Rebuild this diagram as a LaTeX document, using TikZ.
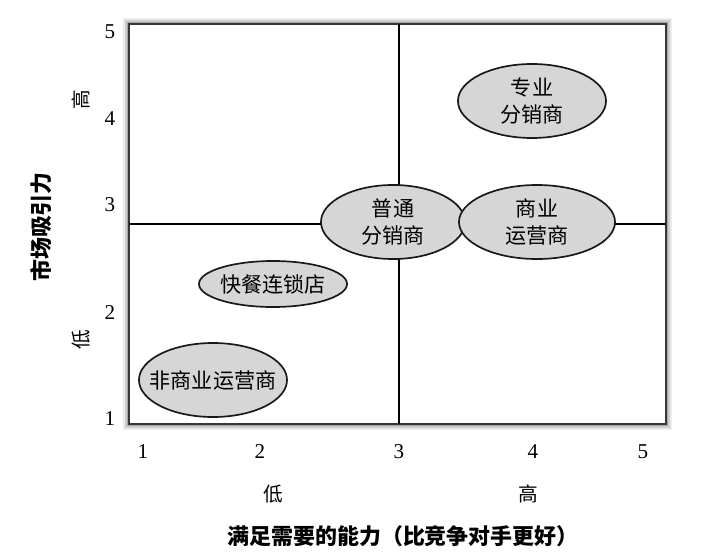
\documentclass[tikz,border=0pt]{standalone}
\usepackage{fontspec}
\setmainfont{Liberation Serif}
\newfontfamily\cjk{Noto Sans CJK SC}
\usetikzlibrary{shapes.geometric, positioning}
\definecolor{segfill}{RGB}{214, 214, 214}
\definecolor{framegray}{RGB}{55, 55, 55}

\begin{document}
\begin{tikzpicture}[x=0.025cm, y=-0.025cm,
        seg/.style={ellipse, draw=black!90, line width=1.2pt, fill=segfill,
                    inner sep=0pt, minimum width=3.7cm, minimum height=1.85cm},
        segtext/.style={font=\cjk\fontsize{15}{19}\selectfont, align=center},
        tick/.style={font=\fontsize{15}{17}\selectfont},
        ends/.style={font=\cjk\fontsize{14}{16}\selectfont},
        axistitle/.style={font=\cjk\bfseries\fontsize{15.6}{17}\selectfont}
      ]
        \useasboundingbox (0,0) rectangle (716,552);

        % frame with soft shadow
        \coordinate (sw) at (129,424);
        \coordinate (ne) at (666,24);
        \coordinate (mid) at (399,224);
        \foreach \w/\o in {8/0.08, 5.5/0.13, 3.5/0.2} {
          \draw[line width=\w pt, black, opacity=\o, shift={(1.5,1.5)}] (sw) rectangle (ne);
        }
        \draw[line width=2pt, draw=framegray, fill=white] (sw) rectangle (ne);
        \draw[line width=0.8pt] (mid |- ne) -- (mid |- sw);
        \draw[line width=0.8pt] (mid -| sw) -- (mid -| ne);

        % segments
        \node[seg] (spec) at (532,101) {};
        \node[segtext] (spec-t) at (spec) {专业\\分销商};
        \node[seg, minimum width=3.6cm] (gen) at (393,222) {};
        \node[segtext] (gen-t) at (gen) {普通\\分销商};
        \node[seg, minimum width=3.9cm] (comm) at (537,222) {};
        \node[segtext] (comm-t) at (comm) {商业\\运营商};
        \node[seg, minimum height=1.15cm] (fast) at (273,284) {};
        \node[segtext] (fast-t) at (fast) {快餐连锁店};
        \node[seg] (noncomm) at (213,380) {};
        \node[segtext] (noncomm-t) at (noncomm) {非商业运营商};

        % scales
        \foreach \v/\py in {5/32, 4/119, 3/205, 2/313, 1/419}
          \node[tick] (y\v) at (110,\py) {\v};
        \foreach \v/\px in {1/143, 2/260, 3/399, 4/533, 5/643}
          \node[tick] (x\v) at (\px,452) {\v};

        \node[ends, rotate=90] (ylow)  at (81,340) {低};
        \node[ends, rotate=90] (yhigh) at (81,100) {高};
        \node[ends] (xlow)  at (273,494) {低};
        \node[ends] (xhigh) at (528,494) {高};

        \node[axistitle, rotate=90] (ytitle) at (41,227) {市场吸引力};
        \node[axistitle] (xtitle) at (403,536) {满足需要的能力（比竞争对手更好）};
      \end{tikzpicture}
\end{document}
